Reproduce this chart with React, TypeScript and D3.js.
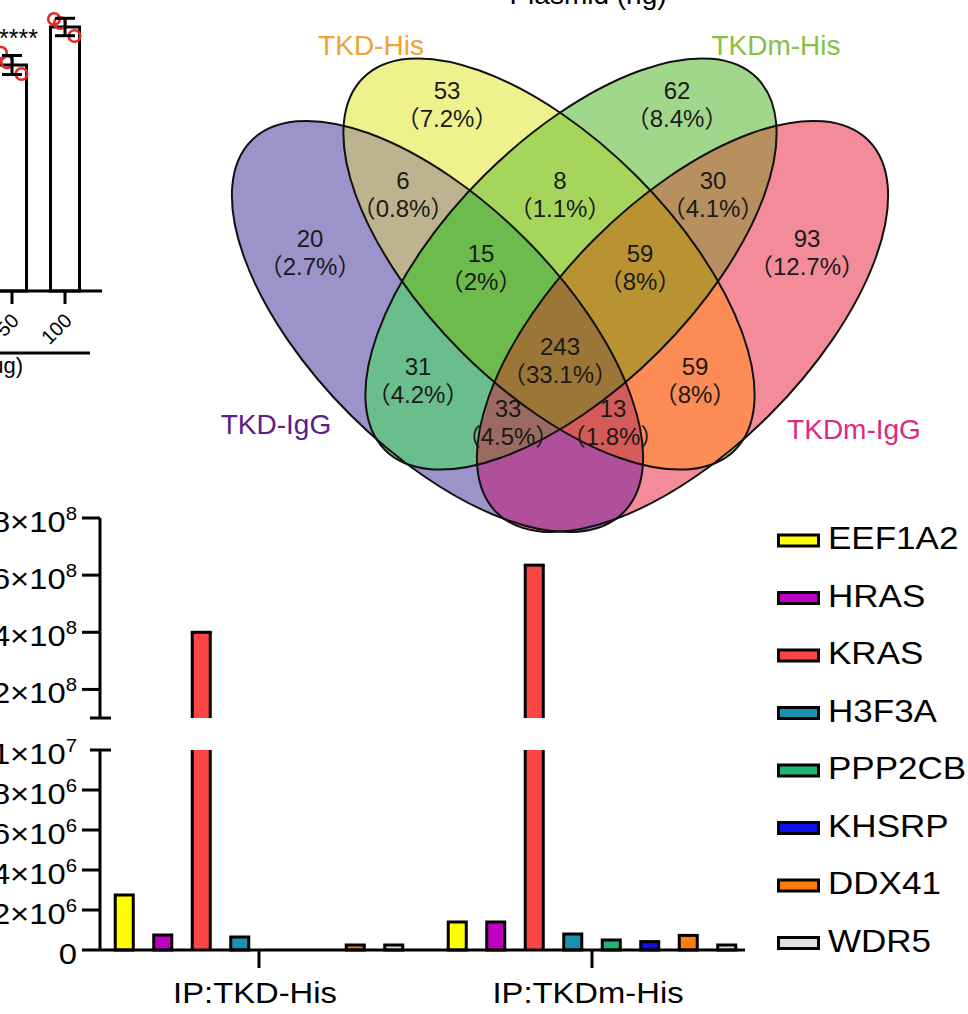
import React from "react";
import * as d3 from "d3";

const W = 968;
const H = 1014;
const FONT = "'Liberation Sans', Arial, Helvetica, 'Noto Sans CJK SC', sans-serif";
const SX = 1.13; // horizontal text stretch of the bar panel

// ---------- top-left partial panel ----------
const topDoses = ["50", "100"];
const topMeans = [85.6, 100];
const topSD = [3.6, 3.3];
const topReps = [
  [90.2, 86.7, 82.2],
  [103, 101.5, 96.6],
];

// ---------- Venn ----------
const vennSetKeys = ["A", "B", "C", "D"];
const vennSetNames = ["TKD-IgG", "TKD-His", "TKDm-His", "TKDm-IgG"];
const vennSetColors = ["#5b2089", "#f0a236", "#86c043", "#dc2a84"];
const vennRegionKeys = ["A", "B", "C", "D", "AB", "BC", "CD", "ABC", "BCD", "ABCD", "AC", "BD", "ACD", "ABD", "AD"];
const vennCounts = [20, 53, 62, 93, 6, 8, 30, 15, 59, 243, 31, 59, 33, 13, null];
const vennPercents = ["2.7%", "7.2%", "8.4%", "12.7%", "0.8%", "1.1%", "4.1%", "2%", "8%", "33.1%", "4.2%", "8%", "4.5%", "1.8%", null];

// ---------- bar chart ----------
const groups = ["IP:TKD-His", "IP:TKDm-His"];
const genes = ["EEF1A2", "HRAS", "KRAS", "H3F3A", "PPP2CB", "KHSRP", "DDX41", "WDR5"];
const tkdHis = [2.75e6, 0.75e6, 4.0e8, 0.65e6, 0, 0, 0.25e6, 0.25e6];
const tkdmHis = [1.4e6, 1.4e6, 6.35e8, 0.8e6, 0.5e6, 0.42e6, 0.73e6, 0.25e6];
const lowerTicks = [0, 2e6, 4e6, 6e6, 8e6, 1e7];
const upperTicks = [2e8, 4e8, 6e8, 8e8];

// styles
const geneColors = ["#ffff00", "#c000c0", "#fc4646", "#1b92ad", "#1fb574", "#1010e8", "#ff7f0e", "#e3e3e3"];
const regionColors: Record<string, string> = {
  A: "#9b93c9", B: "#eef28d", C: "#a1d78a", D: "#f48b98",
  AB: "#bdb48f", BC: "#a6d55b", CD: "#b89060", ABC: "#6dbb4d", BCD: "#b99332",
  ABCD: "#9b7636", AC: "#6abe8b", BD: "#fd8b56", ACD: "#9b6b61", ABD: "#d45b5a", AD: "#b04f9a",
};
const ellipseGeom: Record<string, { cx: number; cy: number; rot: number }> = {
  A: { cx: 437.5, cy: 326.5, rot: 45 },
  B: { cx: 549, cy: 264, rot: 45 },
  C: { cx: 571, cy: 264, rot: -45 },
  D: { cx: 682.5, cy: 326.5, rot: -45 },
};
const ERX = 263;
const ERY = 124;
const regionLabelPos: Record<string, [number, number]> = {
  A: [310, 238], B: [447, 90], C: [677, 90], D: [807, 238],
  AB: [403, 180], BC: [560, 180], CD: [713, 180], ABC: [481, 253], BCD: [640, 253],
  ABCD: [560, 346], AC: [418, 366], BD: [695, 366], ACD: [508, 408], ABD: [613, 408],
};
const setLabelPos: [number, number][] = [[276, 434], [371, 55], [776, 55], [854, 439]];

function Ell(k: string, props: any = {}) {
  const g = ellipseGeom[k];
  return (
    <ellipse
      key={k}
      cx={g.cx}
      cy={g.cy}
      rx={ERX}
      ry={ERY}
      transform={`rotate(${g.rot},${g.cx},${g.cy})`}
      {...props}
    />
  );
}

function fmtTick(v: number) {
  if (v === 0) return { m: "0", e: "" };
  const e = Math.floor(Math.log10(v) + 1e-9);
  const m = Math.round(v / Math.pow(10, e));
  return { m: `${m}×10`, e: String(e) };
}

function TopPanel() {
  const x = d3.scalePoint<string>().domain(topDoses).range([12, 65]);
  const y = d3.scaleLinear().domain([0, 100]).range([291, 27]);
  const bw = 29;
  const jitter = [-11, -5, 9.5];
  return (
    <g>
      {topDoses.map((d, i) => {
        const cx = x(d)!;
        return (
          <g key={d}>
            <rect x={cx - bw / 2} y={y(topMeans[i])} width={bw} height={291 - y(topMeans[i])} fill="#fff" stroke="#000" strokeWidth={3} />
            {topReps[i].map((v, j) => (
              <circle key={j} cx={cx + jitter[j]} cy={y(v)} r={5.8} fill="none" stroke="#e62828" strokeWidth={2.6} />
            ))}
            <line x1={cx} x2={cx} y1={y(topMeans[i] + topSD[i])} y2={y(topMeans[i] - topSD[i])} stroke="#000" strokeWidth={3} />
            <line x1={cx - 10} x2={cx + 10} y1={y(topMeans[i] + topSD[i])} y2={y(topMeans[i] + topSD[i])} stroke="#000" strokeWidth={3} />
            <line x1={cx - 10} x2={cx + 10} y1={y(topMeans[i] - topSD[i])} y2={y(topMeans[i] - topSD[i])} stroke="#000" strokeWidth={3} />
            <line x1={cx} x2={cx} y1={291} y2={304} stroke="#000" strokeWidth={3} />
            <text transform={`translate(${cx + 8},${322}) rotate(-45)`} textAnchor="end" fontSize={20} fontFamily={FONT}>
              {d}
            </text>
          </g>
        );
      })}
      <line x1={0} x2={102} y1={291} y2={291} stroke="#000" strokeWidth={3} />
      <text x={38} y={47} textAnchor="end" fontSize={25} fontFamily={FONT}>****</text>
      <line x1={0} x2={90} y1={353} y2={353} stroke="#000" strokeWidth={3} />
      <text x={23} y={373} textAnchor="end" fontSize={22} fontFamily={FONT}>Plasmid (ug)</text>
      <text x={588} y={4} textAnchor="middle" fontSize={28} fontFamily={FONT}>Plasmid (ng)</text>
    </g>
  );
}

function Venn() {
  return (
    <g>
      <defs>
        {vennSetKeys.map((k) => (
          <clipPath id={`vc-${k}`} key={k}>
            {Ell(k)}
          </clipPath>
        ))}
        {vennRegionKeys.map((r) => (
          <mask id={`vm-${r}`} key={r} maskUnits="userSpaceOnUse" x={0} y={0} width={W} height={H}>
            <rect x={0} y={0} width={W} height={H} fill="#fff" />
            {vennSetKeys.filter((k) => !r.includes(k)).map((k) => Ell(k, { fill: "#000" }))}
          </mask>
        ))}
      </defs>
      {vennRegionKeys.map((r) => {
        let node: any = <rect x={0} y={0} width={W} height={H} fill={regionColors[r]} />;
        r.split("").forEach((k) => {
          node = <g clipPath={`url(#vc-${k})`}>{node}</g>;
        });
        return (
          <g key={r} mask={`url(#vm-${r})`}>
            {node}
          </g>
        );
      })}
      {vennSetKeys.map((k) => Ell(k, { fill: "none", stroke: "#111", strokeWidth: 2 }))}
      {vennRegionKeys.map((r, i) => {
        if (vennCounts[i] == null) return null;
        const [px, py] = regionLabelPos[r];
        return (
          <g key={r} fontFamily={FONT} fontSize={24} fill="#1a1a1a" textAnchor="middle">
            <text x={px} y={py + 8.5}>{vennCounts[i]}</text>
            <text x={px} y={py + 36.5}>{`（${vennPercents[i]}）`}</text>
          </g>
        );
      })}
      {vennSetNames.map((n, i) => (
        <text key={n} x={setLabelPos[i][0]} y={setLabelPos[i][1]} textAnchor="middle" fontSize={28} fontFamily={FONT} fill={vennSetColors[i]}>
          {n}
        </text>
      ))}
    </g>
  );
}

function BarChart() {
  const xGroup = d3.scalePoint<string>().domain(groups).range([259, 592]);
  const xGene = d3.scaleBand<string>().domain(genes).range([-154, 154]).paddingInner(0.532).paddingOuter(0.266);
  const yLow = d3.scaleLinear().domain([0, 1e7]).range([950, 750]);
  const yUp = d3.scaleLinear().domain([1e8, 8e8]).range([718, 518]);
  const bw = xGene.bandwidth();
  const series = [tkdHis, tkdmHis];
  const axX = 100;
  const sw = 3;

  const tickLabel = (v: number, yy: number, key: string) => {
    const t = fmtTick(v);
    return (
      <text key={key} transform={`translate(77,${yy + 14}) scale(${SX},1)`} textAnchor="end" fontSize={29} fontFamily={FONT}>
        {t.m}
        {t.e && (
          <tspan fontSize={18} dy={-12}>
            {t.e}
          </tspan>
        )}
      </text>
    );
  };

  return (
    <g>
      {/* bars */}
      {groups.map((g, gi) =>
        genes.map((gene, i) => {
          const v = series[gi][i];
          if (!v) return null;
          const x0 = xGroup(g)! + xGene(gene)!;
          const col = geneColors[i];
          if (v <= 1e7) {
            return (
              <rect key={g + gene} x={x0} y={yLow(v)} width={bw} height={950 - yLow(v)} fill={col} stroke="#000" strokeWidth={sw} />
            );
          }
          const yt = yUp(v);
          return (
            <g key={g + gene}>
              <rect x={x0} y={750} width={bw} height={200} fill={col} />
              <rect x={x0} y={yt} width={bw} height={718 - yt} fill={col} />
              <line x1={x0} x2={x0} y1={750} y2={950} stroke="#000" strokeWidth={sw} />
              <line x1={x0 + bw} x2={x0 + bw} y1={750} y2={950} stroke="#000" strokeWidth={sw} />
              <line x1={x0} x2={x0} y1={yt} y2={718} stroke="#000" strokeWidth={sw} />
              <line x1={x0 + bw} x2={x0 + bw} y1={yt} y2={718} stroke="#000" strokeWidth={sw} />
              <line x1={x0 - 1.5} x2={x0 + bw + 1.5} y1={yt} y2={yt} stroke="#000" strokeWidth={sw} />
            </g>
          );
        })
      )}
      {/* x axis */}
      <line x1={82} x2={745} y1={950} y2={950} stroke="#000" strokeWidth={sw} />
      {groups.map((g) => (
        <g key={g}>
          <line x1={xGroup(g)!} x2={xGroup(g)!} y1={950} y2={968} stroke="#000" strokeWidth={sw} />
          <text transform={`translate(${xGroup(g)! - 4},1003) scale(${SX},1)`} textAnchor="middle" fontSize={29} fontFamily={FONT}>
            {g}
          </text>
        </g>
      ))}
      {/* y axis: lower segment */}
      <line x1={axX} x2={axX} y1={750} y2={950} stroke="#000" strokeWidth={sw} />
      <line x1={90} x2={111} y1={750} y2={750} stroke="#000" strokeWidth={sw} />
      {lowerTicks.map((t) => (
        <g key={"l" + t}>
          {t > 0 && t < 1e7 && <line x1={82} x2={axX} y1={yLow(t)} y2={yLow(t)} stroke="#000" strokeWidth={sw} />}
          {tickLabel(t, yLow(t), "lt" + t)}
        </g>
      ))}
      {/* y axis: upper segment */}
      <line x1={axX} x2={axX} y1={518} y2={718} stroke="#000" strokeWidth={sw} />
      <line x1={90} x2={111} y1={718} y2={718} stroke="#000" strokeWidth={sw} />
      {upperTicks.map((t) => (
        <g key={"u" + t}>
          <line x1={82} x2={axX} y1={yUp(t)} y2={yUp(t)} stroke="#000" strokeWidth={sw} />
          {tickLabel(t, yUp(t), "ut" + t)}
        </g>
      ))}
      {/* legend */}
      {genes.map((gene, i) => {
        const cy = 538 + 57.5 * i;
        return (
          <g key={gene}>
            <rect x={778.5} y={cy - 3} width={40} height={11} fill={geneColors[i]} stroke="#000" strokeWidth={3} />
            <text transform={`translate(828,${cy + 11}) scale(${SX},1)`} fontSize={31} fontFamily={FONT}>
              {gene}
            </text>
          </g>
        );
      })}
    </g>
  );
}

export default function App() {
  return (
    <svg width={W} height={H} viewBox={`0 0 ${W} ${H}`} style={{ position: "absolute", left: 0, top: 0, background: "#fff" }}>
      <rect x={0} y={0} width={W} height={H} fill="#fff" />
      <TopPanel />
      <Venn />
      <BarChart />
    </svg>
  );
}
